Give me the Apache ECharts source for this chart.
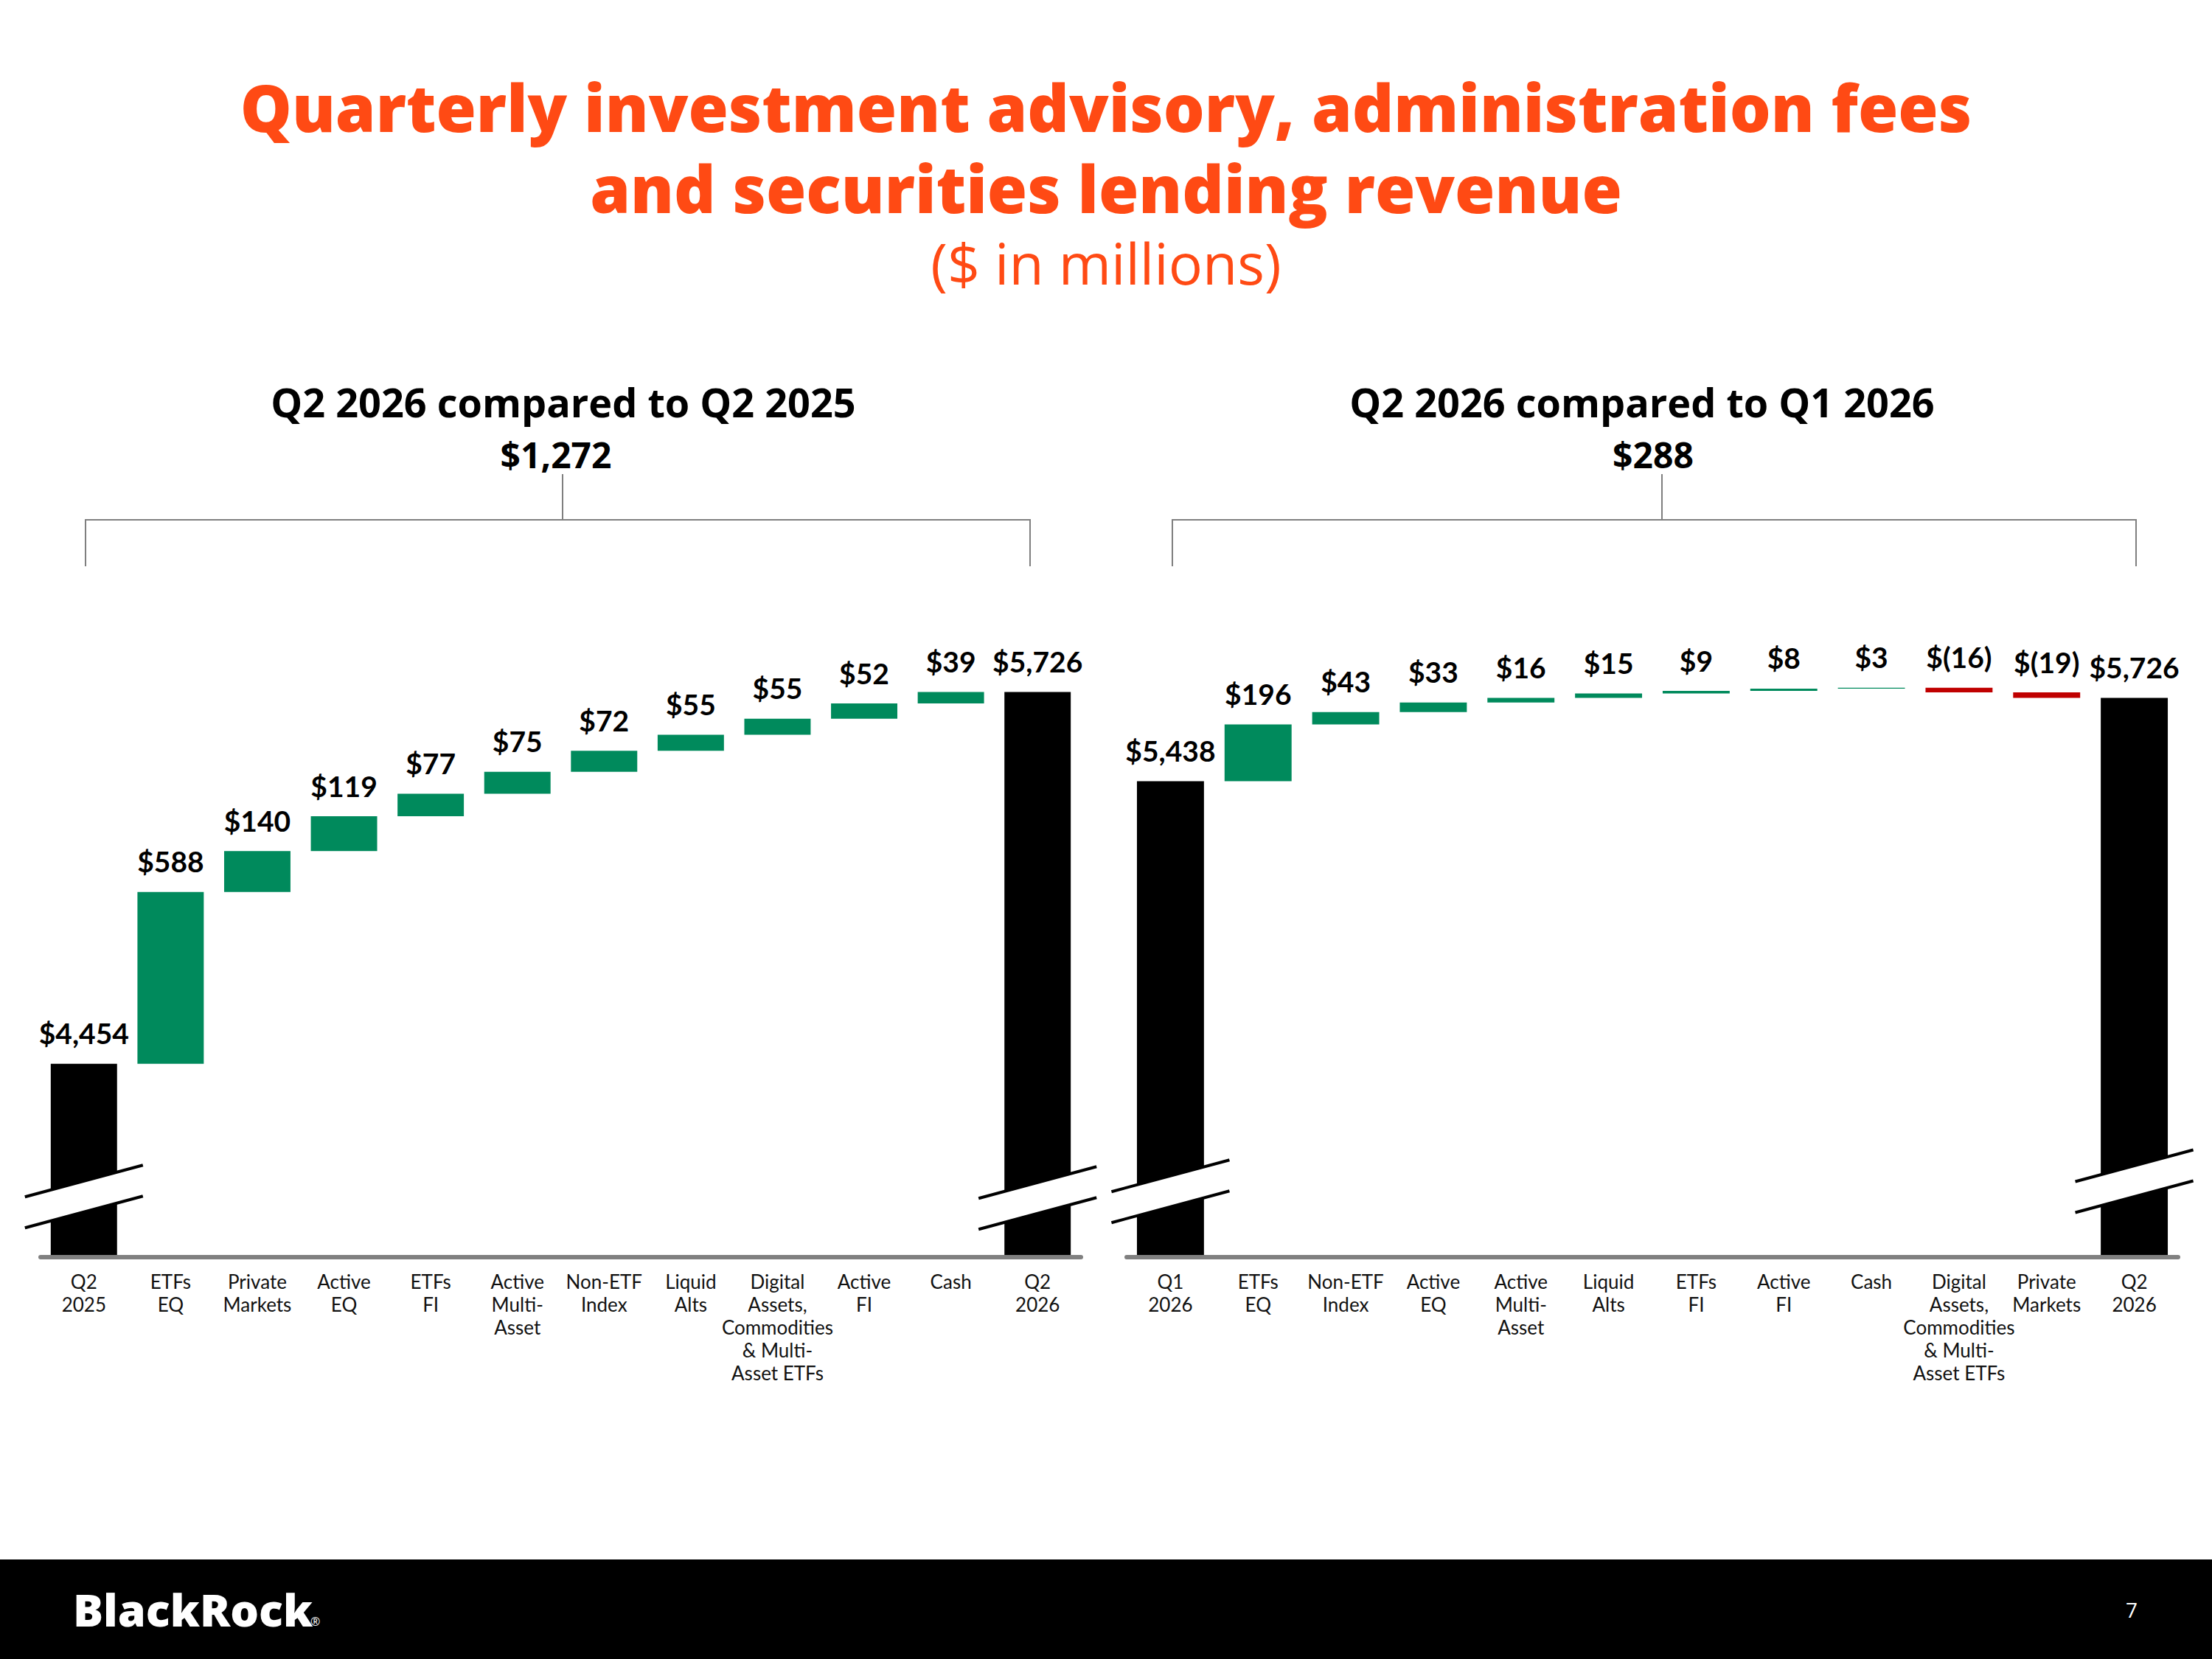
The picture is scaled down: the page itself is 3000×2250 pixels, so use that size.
<!DOCTYPE html>
<html>
<head>
<meta charset="utf-8">
<script src="https://cdn.jsdelivr.net/npm/echarts@6.0.0/dist/echarts.min.js"></script>
<style>
html,body{margin:0;padding:0;background:#fff;}
#chart{width:3000px;height:2250px;}
</style>
</head>
<body>
<div id="chart"></div>
<script>
// ---------- data ----------
const leftCategories = ['Q2\n2025','ETFs\nEQ','Private\nMarkets','Active\nEQ','ETFs\nFI','Active\nMulti-\nAsset','Non-ETF\nIndex','Liquid\nAlts','Digital\nAssets,\nCommodities\n& Multi-\nAsset ETFs','Active\nFI','Cash','Q2\n2026'];
const leftStart = 4454;
const leftDeltas = [588, 140, 119, 77, 75, 72, 55, 55, 52, 39];
const leftEnd = 5726;

const rightCategories = ['Q1\n2026','ETFs\nEQ','Non-ETF\nIndex','Active\nEQ','Active\nMulti-\nAsset','Liquid\nAlts','ETFs\nFI','Active\nFI','Cash','Digital\nAssets,\nCommodities\n& Multi-\nAsset ETFs','Private\nMarkets','Q2\n2026'];
const rightStart = 5438;
const rightDeltas = [196, 43, 33, 16, 15, 9, 8, 3, -16, -19];
const rightEnd = 5726;

const leftChange = 1272;
const rightChange = 288;

// axis break positions (value on the axis where the break marks sit)
const leftBreaks = [[0, 4000], [11, 3995]];
const rightBreaks = [[0, 4020], [11, 4055]];

// ---------- style ----------
const GREEN = '#008A5C';
const RED = '#C00000';
const BLACK = '#000000';
const ORANGE = '#FF4A14';
const FONT = 'Lato, "Open Sans", "Noto Sans", sans-serif';
const HFONT = '"Open Sans", Lato, sans-serif';

const fmt = v => v < 0 ? '$(' + Math.abs(v).toLocaleString('en-US') + ')' : '$' + v.toLocaleString('en-US');

function build(start, deltas, end) {
  const base = [0], vis = [start], lab = [start], col = [BLACK];
  let cur = start;
  deltas.forEach(d => {
    const next = cur + d;
    base.push(Math.min(cur, next));
    vis.push(Math.abs(d));
    lab.push(d);
    col.push(d >= 0 ? GREEN : RED);
    cur = next;
  });
  base.push(0); vis.push(end); lab.push(end); col.push(BLACK);
  return {base, vis, lab, col};
}

const L = build(leftStart, leftDeltas, leftEnd);
const R = build(rightStart, rightDeltas, rightEnd);

function breakRender(params, api) {
  const p = api.coord([api.value(0), api.value(1)]);
  const hx = 80, s = 21.5, g = 21;
  const x0 = p[0] - hx, x1 = p[0] + hx;
  return {
    type: 'group',
    children: [
      {type: 'polygon', shape: {points: [[x0, p[1] - g + s], [x1, p[1] - g - s], [x1, p[1] + g - s], [x0, p[1] + g + s]]}, style: {fill: '#fff'}},
      {type: 'line', shape: {x1: x0, y1: p[1] - g + s, x2: x1, y2: p[1] - g - s}, style: {stroke: '#000', lineWidth: 4}},
      {type: 'line', shape: {x1: x0, y1: p[1] + g + s, x2: x1, y2: p[1] + g - s}, style: {stroke: '#000', lineWidth: 4}}
    ]
  };
}

function seriesFor(idx, d) {
  return [
    {
      type: 'bar', xAxisIndex: idx, yAxisIndex: idx, stack: 's' + idx,
      barWidth: '76.5%', silent: true,
      itemStyle: {color: 'transparent'},
      data: d.base
    },
    {
      type: 'bar', xAxisIndex: idx, yAxisIndex: idx, stack: 's' + idx,
      barWidth: '76.5%', silent: true,
      data: d.vis.map((v, i) => ({value: v, itemStyle: {color: d.col[i]}})),
      label: {
        show: true, position: 'top', distance: 22,
        fontFamily: FONT, fontSize: 39, fontWeight: 'bold', color: '#000',
        formatter: p => fmt(d.lab[p.dataIndex])
      }
    }
  ];
}

const xAxisBase = (idx, cats) => ({
  type: 'category', gridIndex: idx, data: cats, offset: 3,
  axisTick: {show: false},
  axisLine: {lineStyle: {color: '#808080', width: 6}},
  axisLabel: {interval: 0, fontFamily: FONT, fontSize: 26, lineHeight: 31, color: '#111', margin: 17}
});
const yAxisBase = idx => ({type: 'value', gridIndex: idx, min: 3800, max: 6000, show: false, splitLine: {show: false}});

const chart = echarts.init(document.getElementById('chart'), null, {renderer: 'svg'});

const T = (x, y, text, size, weight, color, align, lh) => {
  const st = {text: text, fontFamily: HFONT, fontSize: size, fontWeight: weight, fill: color, align: align || 'center', verticalAlign: 'middle'};
  if (lh) st.lineHeight = lh;
  return {type: 'text', x: x, y: y, z: 100, style: st};
};
const bracketStyle = {stroke: '#7F7F7F', lineWidth: 2};

chart.setOption({
  animation: false,
  backgroundColor: '#fff',
  grid: [
    {left: 55, width: 1411, top: 830, height: 872},
    {left: 1528, width: 1426, top: 839, height: 863}
  ],
  xAxis: [xAxisBase(0, leftCategories), xAxisBase(1, rightCategories)],
  yAxis: [yAxisBase(0), yAxisBase(1)],
  series: [
    ...seriesFor(0, L),
    ...seriesFor(1, R),
    {type: 'custom', xAxisIndex: 0, yAxisIndex: 0, z: 5, silent: true, clip: false, renderItem: breakRender, data: leftBreaks},
    {type: 'custom', xAxisIndex: 1, yAxisIndex: 1, z: 5, silent: true, clip: false, renderItem: breakRender, data: rightBreaks}
  ],
  graphic: [
    T(1500, 200, 'Quarterly investment advisory, administration fees\nand securities lending revenue', 88, 800, ORANGE, 'center', 110),
    T(1500, 356, '($ in millions)', 77, 'normal', ORANGE),
    T(764, 545, 'Q2 2026 compared to Q2 2025', 54, 'bold', '#000'),
    T(754, 616, fmt(leftChange), 48, 'bold', '#000'),
    T(2227, 545, 'Q2 2026 compared to Q1 2026', 54, 'bold', '#000'),
    T(2242, 616, fmt(rightChange), 48, 'bold', '#000'),
    {type: 'polyline', z: 100, shape: {points: [[116, 768], [116, 705], [1397, 705], [1397, 768]]}, style: Object.assign({fill: null}, bracketStyle)},
    {type: 'line', z: 100, shape: {x1: 763, y1: 643, x2: 763, y2: 705}, style: bracketStyle},
    {type: 'polyline', z: 100, shape: {points: [[1590, 768], [1590, 705], [2897, 705], [2897, 768]]}, style: Object.assign({fill: null}, bracketStyle)},
    {type: 'line', z: 100, shape: {x1: 2254, y1: 643, x2: 2254, y2: 705}, style: bracketStyle},
    {type: 'rect', z: 90, shape: {x: 0, y: 2115, width: 3000, height: 135}, style: {fill: '#000'}},
    T(99, 2182, 'BlackRock', 61, 800, '#fff', 'left'),
    T(421, 2199, '®', 16, 'normal', '#fff', 'left'),
    T(2891, 2183, '7', 28, 'normal', '#fff')
  ]
});
</script>
</body>
</html>
